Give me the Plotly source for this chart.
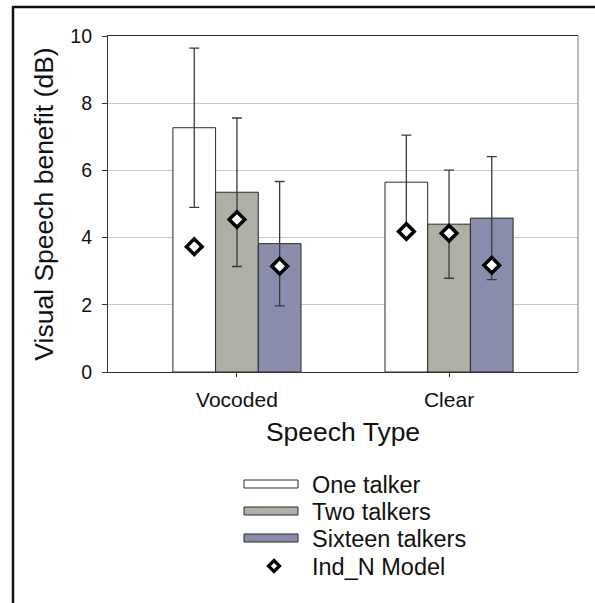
import plotly.graph_objects as go

# ---- data ----
categories = ["Vocoded", "Clear"]
one_talker = [7.27, 5.65]
one_talker_err = [2.37, 1.40]
two_talkers = [5.35, 4.40]
two_talkers_err = [2.21, 1.61]
sixteen_talkers = [3.82, 4.58]
sixteen_talkers_err = [1.85, 1.83]
model_one = [3.73, 4.18]
model_two = [4.54, 4.13]
model_sixteen = [3.15, 3.18]

series_names = ["One talker", "Two talkers", "Sixteen talkers"]
model_name = "Ind_N Model"

# ---- styles ----
FONT = "Liberation Sans, Arial, sans-serif"
colors = ["#ffffff", "#adb1a5", "#8a8cab"]
W, H = 595, 603
L, R, T, B = 108, 578, 36, 372  # plot area in pixels

def px(x):
    return (x - L) / (R - L)

def py(y):
    return (B - y) / (B - T)

fig = go.Figure()
bars = [(one_talker, one_talker_err), (two_talkers, two_talkers_err),
        (sixteen_talkers, sixteen_talkers_err)]
for i, (vals, errs) in enumerate(bars):
    fig.add_trace(go.Bar(
        x=categories, y=vals, name=series_names[i],
        offsetgroup=str(i),
        marker=dict(color=colors[i], line=dict(color="#2a2a2a", width=1)),
        error_y=dict(type="data", array=errs, visible=True,
                     color="#3a3a3a", thickness=1.3, width=5),
        showlegend=False,
    ))
for i, vals in enumerate([model_one, model_two, model_sixteen]):
    fig.add_trace(go.Scatter(
        x=categories, y=vals, name=model_name, mode="markers",
        offsetgroup=str(i),
        marker=dict(symbol="diamond", size=12, color="#ffffff",
                    line=dict(color="#000000", width=3.5)),
        showlegend=False,
    ))

shapes = []
# outer frame (top and left)
shapes.append(dict(type="line", xref="paper", yref="paper",
                   x0=px(12.5), x1=px(600), y0=py(7), y1=py(7),
                   line=dict(color="#111111", width=2.5)))
shapes.append(dict(type="line", xref="paper", yref="paper",
                   x0=px(13), x1=px(13), y0=py(6), y1=py(610),
                   line=dict(color="#111111", width=2.5)))
# right plot border
shapes.append(dict(type="line", xref="paper", yref="paper",
                   x0=1, x1=1, y0=0, y1=1,
                   line=dict(color="#8f8f8f", width=1.2)))

# manual legend
legend_rows = [484, 511, 538, 566]
LEG_SIZE = 23.5
annotations = []
for i, name in enumerate(series_names):
    yc = legend_rows[i]
    shapes.append(dict(type="rect", xref="paper", yref="paper",
                       x0=px(244), x1=px(298), y0=py(yc - 4), y1=py(yc + 4),
                       fillcolor=colors[i], line=dict(color="#2a2a2a", width=1)))
    annotations.append(dict(text=name, xref="paper", yref="paper",
                            x=px(310), y=py(yc + 1), xanchor="left", yanchor="middle",
                            showarrow=False, font=dict(family=FONT, size=LEG_SIZE, color="#111")))
yc = legend_rows[3]
cx = 274
d = 5.5
shapes.append(dict(type="path", xref="paper", yref="paper",
                   path=f"M {px(cx)},{py(yc-d)} L {px(cx+d)},{py(yc)} L {px(cx)},{py(yc+d)} L {px(cx-d)},{py(yc)} Z",
                   fillcolor="#ffffff", line=dict(color="#000000", width=3.2)))
annotations.append(dict(text=model_name, xref="paper", yref="paper",
                        x=px(310), y=py(yc + 1), xanchor="left", yanchor="middle",
                        showarrow=False, font=dict(family=FONT, size=LEG_SIZE, color="#111")))

fig.update_layout(
    width=W, height=H,
    margin=dict(l=L, r=W - R, t=T, b=H - B, pad=0),
    paper_bgcolor="#ffffff", plot_bgcolor="#ffffff",
    barmode="group", bargap=0.396, bargroupgap=0,
    scattermode="group", scattergap=0.396,
    font=dict(family=FONT, color="#111111"),
    showlegend=False,
    shapes=shapes, annotations=annotations,
)
fig.update_xaxes(
    type="category", range=[-0.608, 1.608],
    showline=True, linecolor="#333333", linewidth=1.2, mirror=True,
    ticks="outside", ticklen=4, tickcolor="#333333",
    tickfont=dict(family=FONT, size=21, color="#111"),
    ticklabelstandoff=5,
    title=dict(text="Speech Type", font=dict(family=FONT, size=26.5, color="#111"), standoff=12),
    showgrid=False,
)
fig.update_yaxes(
    range=[0, 10], dtick=2, tick0=0,
    showline=True, linecolor="#333333", linewidth=1.2,
    ticks="outside", ticklen=5, tickcolor="#333333",
    tickfont=dict(family=FONT, size=19.5, color="#111"),
    ticklabelstandoff=6,
    showgrid=True, gridcolor="#c8c8c8", gridwidth=1,
    zeroline=False,
    title=dict(text="Visual Speech benefit (dB)", font=dict(family=FONT, size=26.5, color="#111"), standoff=9),
)

fig.write_html("out.html")
